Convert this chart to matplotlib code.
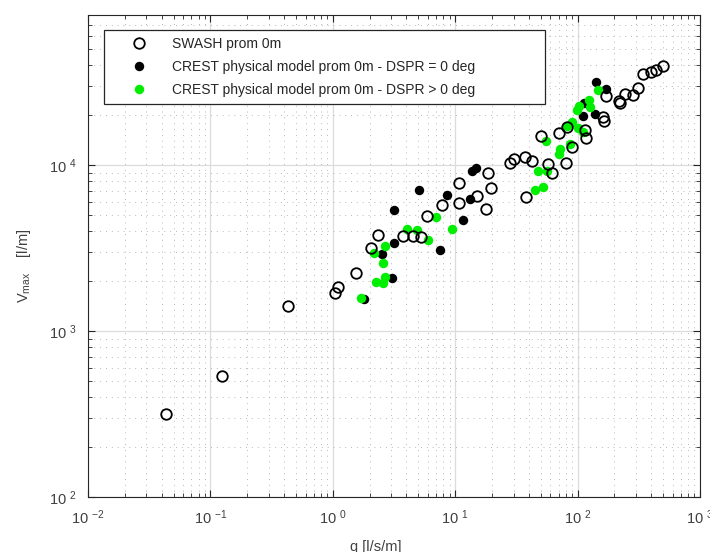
import math

import matplotlib

matplotlib.use("Agg")

import matplotlib.pyplot as plt
from matplotlib.ticker import FixedLocator, FuncFormatter, LogLocator, NullFormatter

# SWASH prom 0m (open circles)
swash_q = [0.0435, 0.124, 0.429, 1.04, 1.10, 1.54, 2.07, 2.36, 3.76, 4.48, 5.21, 5.86,
           7.82, 10.8, 10.8, 15.0, 17.9, 18.4, 19.6, 27.8, 30.1, 37.3, 37.7, 42.8, 50.7,
           57.1, 62.0, 70.6, 81.1, 82.6, 89.7, 114, 118, 161, 164, 170, 218, 224, 244,
           284, 309, 343, 401, 436, 500]
swash_v = [315, 538, 1416, 1690, 1830, 2240, 3140, 3800, 3710, 3710, 3680, 4920,
           5750, 7770, 5890, 6510, 5400, 8900, 7310, 10300, 10900, 11200, 6430, 10500, 14900,
           10200, 8900, 15600, 10300, 16900, 12800, 16200, 14500, 19400, 18400, 25900, 24200, 23600, 26800,
           26400, 28900, 35300, 36500, 37200, 39400]

# CREST physical model, DSPR = 0 deg (black)
crest0_q = [1.79, 2.51, 3.07, 3.19, 3.19, 5.07, 7.48, 8.59, 11.6, 13.2, 13.6, 14.7,
            111, 112, 138, 141, 172]
crest0_v = [1550, 2910, 2090, 3390, 5350, 7080, 3090, 6600, 4690, 6250, 9200, 9630,
            19700, 23500, 20200, 31700, 28800]

# CREST physical model, DSPR > 0 deg (green)
crestd_q = [1.71, 2.27, 2.58, 2.69, 2.58, 2.68, 2.16, 4.05, 4.83, 6.01, 6.95, 9.33,
            44.7, 52.3, 47.5, 56.0, 55.0, 70.2, 71.6, 86.3, 82.0, 89.7, 101, 98, 102,
            124, 126, 111, 147]
crestd_v = [1570, 1970, 1950, 2100, 2550, 3260, 2960, 4110, 4060, 3530, 4870, 4090,
            7080, 7380, 9150, 9200, 13900, 11700, 12500, 13300, 17100, 18200, 16800, 21400, 22800,
            24500, 22300, 15700, 28100]

plt.rcParams["font.family"] = ["Liberation Sans", "DejaVu Sans"]
plt.rcParams["mathtext.fontset"] = "custom"
plt.rcParams["mathtext.rm"] = "Liberation Sans"
plt.rcParams["mathtext.it"] = "Liberation Sans:italic"
plt.rcParams["mathtext.bf"] = "Liberation Sans:bold"

label_color = "#404040"

fig = plt.figure(figsize=(7.1, 5.52), dpi=100)
ax = fig.add_axes([88 / 710, 55 / 552, 612 / 710, 482 / 552])

ax.plot(crest0_q, crest0_v, "o", color="black", markersize=6.8, markeredgewidth=0,
        label="CREST physical model prom 0m - DSPR = 0 deg", zorder=3)
ax.plot(crestd_q, crestd_v, "o", color="#00ee00", markersize=6.8, markeredgewidth=0,
        label="CREST physical model prom 0m - DSPR > 0 deg", zorder=4)
ax.plot(swash_q, swash_v, "o", markerfacecolor="none", markeredgecolor="black",
        markersize=7.6, markeredgewidth=1.3, label="SWASH prom 0m", zorder=5)

ax.set_xscale("log")
ax.set_yscale("log")
ax.set_xlim(1e-2, 1e3)
ax.set_ylim(1e2, 8e4)

ax.xaxis.set_major_locator(FixedLocator([1e-2, 1e-1, 1e0, 1e1, 1e2, 1e3]))
ax.yaxis.set_major_locator(FixedLocator([1e2, 1e3, 1e4]))
ax.xaxis.set_minor_locator(LogLocator(base=10, subs=range(2, 10), numticks=20))
ax.yaxis.set_minor_locator(LogLocator(base=10, subs=range(2, 10), numticks=20))
ax.xaxis.set_minor_formatter(NullFormatter())
ax.yaxis.set_minor_formatter(NullFormatter())


def power_label(value, pos):
    exp = int(round(math.log10(value)))
    return r"10$\ ^{\mathregular{%d}}$" % exp


ax.xaxis.set_major_formatter(FuncFormatter(power_label))
ax.yaxis.set_major_formatter(FuncFormatter(power_label))

ax.tick_params(which="both", direction="in", top=True, right=True,
               colors="#262626", labelcolor=label_color, labelsize=10.5)
ax.tick_params(which="major", length=5, width=0.8, pad=8)
ax.tick_params(which="minor", length=3, width=0.6)

ax.grid(which="major", color="#dcdcdc", linestyle="-", linewidth=0.9)
ax.grid(which="minor", color="#b8b8b8", linestyle=(0, (1, 5)), linewidth=0.7)
ax.set_axisbelow(True)

for spine in ax.spines.values():
    spine.set_color("#262626")
    spine.set_linewidth(0.8)

ax.set_xlabel("q [l/s/m]", fontsize=10.5, color=label_color)
ax.xaxis.set_label_coords(0.47, -0.09)
ax.set_ylabel(r"V$_{\mathregular{max}}$    [l/m]", fontsize=10.5, color=label_color)
ax.yaxis.set_label_coords(-0.09, 0.48)

handles, labels = ax.get_legend_handles_labels()
order = [2, 0, 1]
leg = ax.legend([handles[i] for i in order], [labels[i] for i in order],
                loc="upper left", bbox_to_anchor=(0.026, 0.815, 0.72, 0.154),
                mode="expand", fancybox=False, edgecolor="#262626", framealpha=1,
                fontsize=10, handlelength=4.0, handletextpad=0.4,
                borderpad=0.5, labelspacing=0.65, borderaxespad=0)
leg.get_frame().set_linewidth(0.9)
for text in leg.get_texts():
    text.set_color("#262626")

fig.savefig("out.png", dpi=100)
